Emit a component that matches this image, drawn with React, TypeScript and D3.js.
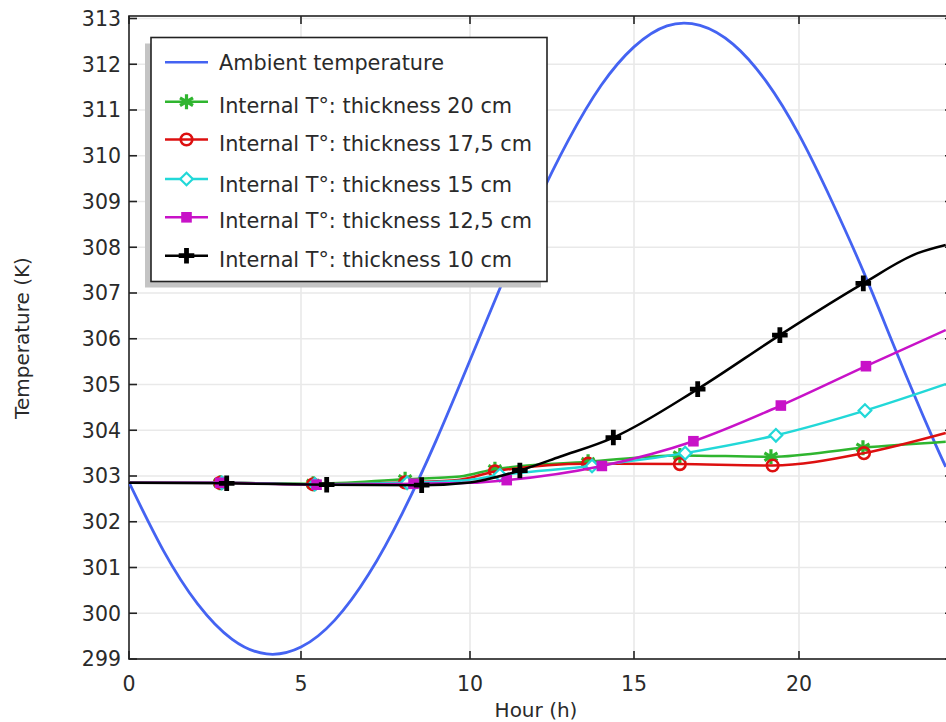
import React from "react";
import * as d3 from "d3";

// ---------- data ----------
const xTickValues = [0, 5, 10, 15, 20];
const yTickValues = [299, 300, 301, 302, 303, 304, 305, 306, 307, 308, 309, 310, 311, 312, 313];

const ambientHours = [0, 1, 2, 3, 4, 5, 6, 7, 8, 9, 10, 11, 12, 13, 14, 15, 16, 17, 18, 19, 20, 21, 22, 23, 24, 24.45];
const ambientTemp = [302.86, 301.37, 300.2, 299.43, 299.11, 299.26, 299.85, 300.85, 302.19, 303.78, 305.53, 307.25, 308.89, 310.34, 311.54, 312.38, 312.84, 312.85, 312.44, 311.63, 310.46, 309.0, 307.39, 305.63, 303.92, 303.2];

const t20Hours = [0, 2.65, 5.36, 8.08, 9.7, 10.76, 13.6, 16.39, 19.15, 21.94, 24.45];
const t20Temp = [302.85, 302.85, 302.83, 302.93, 302.99, 303.15, 303.31, 303.45, 303.42, 303.62, 303.75];
const t20Markers = [1, 2, 3, 5, 6, 7, 8, 9];

const t175Hours = [0, 2.65, 5.36, 8.08, 9.7, 10.76, 13.6, 16.39, 19.2, 21.97, 24.45];
const t175Temp = [302.85, 302.85, 302.82, 302.86, 302.92, 303.1, 303.27, 303.26, 303.23, 303.5, 303.94];
const t175Markers = [1, 2, 3, 5, 6, 7, 8, 9];

const t15Hours = [0, 2.7, 5.41, 8.14, 9.8, 10.91, 13.72, 16.55, 19.3, 22.0, 24.45];
const t15Temp = [302.85, 302.85, 302.82, 302.85, 302.9, 303.02, 303.22, 303.5, 303.89, 304.43, 305.01];
const t15Markers = [1, 2, 3, 5, 6, 7, 8, 9];

const t125Hours = [0, 2.65, 5.46, 8.33, 10.0, 11.12, 14.02, 16.8, 19.45, 22.03, 24.45];
const t125Temp = [302.85, 302.85, 302.81, 302.83, 302.85, 302.91, 303.22, 303.76, 304.54, 305.4, 306.19];
const t125Markers = [1, 2, 3, 5, 6, 7, 8, 9];

const t10Hours = [0, 2.84, 5.76, 8.57, 10.0, 11.52, 12.74, 14.37, 16.93, 19.42, 21.95, 23.6, 24.45];
const t10Temp = [302.85, 302.84, 302.81, 302.8, 302.86, 303.12, 303.42, 303.84, 304.9, 306.08, 307.21, 307.87, 308.05];
const t10Markers = [1, 2, 3, 5, 7, 8, 9, 10];

const legendLabels = [
  "Ambient temperature",
  "Internal T°: thickness 20 cm",
  "Internal T°: thickness 17,5 cm",
  "Internal T°: thickness 15 cm",
  "Internal T°: thickness 12,5 cm",
  "Internal T°: thickness 10 cm",
];

type Marker = "none" | "star" | "circle" | "diamond" | "square" | "plus";

const series = [
  { hours: t20Hours, temps: t20Temp, markers: t20Markers, color: "#2fb52f", marker: "star" as Marker },
  { hours: t175Hours, temps: t175Temp, markers: t175Markers, color: "#dd1010", marker: "circle" as Marker },
  { hours: t15Hours, temps: t15Temp, markers: t15Markers, color: "#22d8d8", marker: "diamond" as Marker },
  { hours: t125Hours, temps: t125Temp, markers: t125Markers, color: "#c812c8", marker: "square" as Marker },
  { hours: t10Hours, temps: t10Temp, markers: t10Markers, color: "#000000", marker: "plus" as Marker },
];

const FONT = "DejaVu Sans, Verdana, sans-serif";

function MarkerShape({ type, x, y, color }: { type: Marker; x: number; y: number; color: string }) {
  const t = `translate(${x},${y})`;
  switch (type) {
    case "star":
      return (
        <path
          transform={t}
          d="M0,-7.5L0,7.5M-6.5,-3.8L6.5,3.8M-6.5,3.8L6.5,-3.8"
          stroke={color}
          strokeWidth={3.2}
          fill="none"
        />
      );
    case "circle":
      return <circle transform={t} r={5.8} stroke={color} strokeWidth={2.6} fill="none" />;
    case "diamond":
      return <path transform={t} d="M0,-6.3L6.3,0L0,6.3L-6.3,0Z" stroke={color} strokeWidth={2.2} fill="white" />;
    case "square":
      return <rect transform={t} x={-5.3} y={-5.3} width={10.6} height={10.6} fill={color} />;
    case "plus":
      return <path transform={t} d="M0,-7.8L0,7.8M-7.8,0L7.8,0" stroke={color} strokeWidth={4.8} fill="none" />;
    default:
      return null;
  }
}

export default function App() {
  const W = 946;
  const H = 722;
  const left = 129;
  const right = 953;
  const top = 16;
  const bottom = 659;

  const x = d3.scaleLinear().domain([0, 5, 10, 15, 20, 24.67]).range([129, 301, 470, 634, 799, right]);
  const y = d3.scaleLinear().domain([299, 313]).range([bottom, 18.5]);

  const lineGen = d3
    .line<[number, number]>()
    .x((d) => x(d[0]))
    .y((d) => y(d[1]))
    .curve(d3.curveMonotoneX);

  const ambientPts: [number, number][] = ambientHours.map((h, i) => [h, ambientTemp[i]]);
  const ambientPath = d3
    .line<[number, number]>()
    .x((d) => x(d[0]))
    .y((d) => y(d[1]))
    .curve(d3.curveNatural)(ambientPts) as string;

  const legX = 151;
  const legY = 37.5;
  const legW = 396;
  const legH = 244;
  const rowSample = [62.3, 101.7, 139.5, 179, 217.3, 255.7];
  const rowText = [69.8, 113.3, 150.5, 191.5, 227.8, 267.3];

  return (
    <svg
      width={W}
      height={H}
      style={{ position: "absolute", left: 0, top: 0, background: "white" }}
      fontFamily={FONT}
    >
      <rect x={0} y={0} width={W} height={H} fill="white" />
      <defs>
        <clipPath id="plotClip">
          <rect x={left} y={top} width={right - left} height={bottom - top} />
        </clipPath>
      </defs>

      {/* grid */}
      <g stroke="#e9e9e9" strokeWidth={1.6}>
        {yTickValues.map((v) => (
          <line key={"gy" + v} x1={left} x2={right} y1={y(v)} y2={y(v)} />
        ))}
        {xTickValues.filter((v) => v > 0).map((v) => (
          <line key={"gx" + v} x1={x(v)} x2={x(v)} y1={top} y2={bottom} />
        ))}
      </g>

      {/* frame */}
      <rect x={left} y={top} width={right - left} height={bottom - top} fill="none" stroke="#222" strokeWidth={1.6} />

      {/* ticks */}
      <g stroke="#222" strokeWidth={1.6}>
        {yTickValues.map((v) => (
          <g key={"ty" + v}>
            <line x1={left} x2={left + 8} y1={y(v)} y2={y(v)} />
            <line x1={right} x2={right - 8} y1={y(v)} y2={y(v)} />
          </g>
        ))}
        {xTickValues.map((v) => (
          <g key={"tx" + v}>
            <line x1={x(v)} x2={x(v)} y1={bottom} y2={bottom - 8} />
            <line x1={x(v)} x2={x(v)} y1={top} y2={top + 8} />
          </g>
        ))}
      </g>

      {/* tick labels */}
      <g fontSize={20.5} fill="#2a2a2a">
        {yTickValues.map((v) => (
          <text key={"ly" + v} x={121} y={y(v) + 7.4} textAnchor="end">
            {v}
          </text>
        ))}
        {xTickValues.map((v) => (
          <text key={"lx" + v} x={x(v)} y={690.5} textAnchor="middle">
            {v}
          </text>
        ))}
      </g>

      {/* axis titles */}
      <text x={536} y={716.5} fontSize={20} textAnchor="middle" fill="#2a2a2a">
        Hour (h)
      </text>
      <text
        transform={`translate(28.5,338) rotate(-90)`}
        fontSize={20}
        textAnchor="middle"
        fill="#2a2a2a"
      >
        Temperature (K)
      </text>

      {/* data */}
      <g clipPath="url(#plotClip)">
        <path d={ambientPath} fill="none" stroke="#4463f2" strokeWidth={2.8} />
        {series.map((s, si) => {
          const pts: [number, number][] = s.hours.map((h, i) => [h, s.temps[i]]);
          return (
            <g key={"s" + si}>
              <path d={lineGen(pts) as string} fill="none" stroke={s.color} strokeWidth={2.5} />
              {s.markers.map((mi) => (
                <MarkerShape key={mi} type={s.marker} x={x(s.hours[mi])} y={y(s.temps[mi])} color={s.color} />
              ))}
            </g>
          );
        })}
      </g>

      {/* legend */}
      <rect x={legX - 6} y={legY + 6} width={legW} height={legH} fill="#c4c4c4" />
      <rect x={legX} y={legY} width={legW} height={legH} fill="white" stroke="#222" strokeWidth={1.6} />
      {legendLabels.map((lab, i) => {
        const color = i === 0 ? "#4463f2" : series[i - 1].color;
        const mk: Marker = i === 0 ? "none" : series[i - 1].marker;
        return (
          <g key={"lg" + i}>
            <line x1={165} x2={208} y1={rowSample[i]} y2={rowSample[i]} stroke={color} strokeWidth={2.4} />
            <MarkerShape type={mk} x={186.5} y={rowSample[i]} color={color} />
            <text x={219} y={rowText[i]} fontSize={20.8} fill="#2a2a2a">
              {lab}
            </text>
          </g>
        );
      })}
    </svg>
  );
}
